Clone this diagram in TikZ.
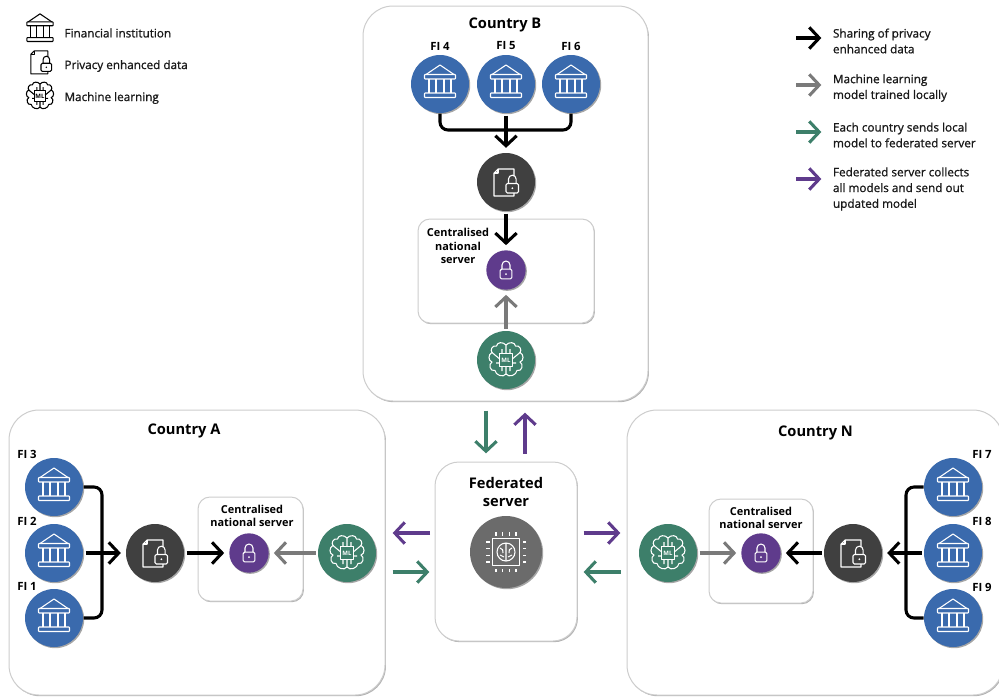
\documentclass[tikz,border=0pt]{standalone}
\usepackage{fontspec}
\usepackage{tikz}
\usepackage{xcolor}
\usetikzlibrary{arrows.meta,shadows}
\setmainfont{Open Sans}
\newfontfamily\legendfont[FakeBold=1]{Open Sans}
\definecolor{fiblue}{RGB}{58,106,173}
\definecolor{docgrey}{RGB}{64,64,64}
\definecolor{lockpurple}{RGB}{95,59,140}
\definecolor{mlgreen}{RGB}{61,127,106}
\definecolor{chipgrey}{RGB}{107,107,107}
\definecolor{arrowgrey}{RGB}{122,122,122}
\definecolor{boxline}{RGB}{205,205,205}
\tikzset{every picture/.style={line width=0.75pt}}
\tikzset{
  regionbox/.style={draw=boxline,fill=white,line width=0.75pt,rounded corners=22.5pt,inner sep=0pt,
    drop shadow={shadow xshift=0.7pt,shadow yshift=-0.9pt,fill=black,opacity=0.3}},
  serverbox/.style={regionbox,rounded corners=9pt},
  iconcircle/.style={circle,inner sep=0pt,minimum size=43.5pt,
    drop shadow={shadow xshift=0.9pt,shadow yshift=-0.9pt,fill=black,opacity=0.35}},
  ficircle/.style={iconcircle,fill=fiblue},
  doccircle/.style={iconcircle,fill=docgrey},
  lockcircle/.style={iconcircle,fill=lockpurple,minimum size=29.5pt},
  mlcircle/.style={iconcircle,fill=mlgreen},
  chipcircle/.style={iconcircle,fill=chipgrey,minimum size=54pt},
  flowline/.style={line width=2.3pt,rounded corners=6pt},
  flowarrow/.style={line width=2.3pt,-{Straight Barb[length=7.5pt,width=16pt,line width=2.3pt]},shorten >=3.5pt,shorten <=1.5pt},
  blackarrow/.style={flowarrow,black},
  greyarrow/.style={flowarrow,arrowgrey},
  greenarrow/.style={flowarrow,mlgreen},
  purplearrow/.style={flowarrow,lockpurple},
  iconstroke/.style={line width=0.8pt,line join=round},
  titletext/.style={font=\fontsize{11}{13}\selectfont\bfseries},
  fitext/.style={font=\fontsize{8.5}{10}\selectfont\bfseries},
  servertext/.style={font=\fontsize{8.2}{10.2}\selectfont\bfseries,align=center},
  keytext/.style={font=\fontsize{8.8}{11.8}\legendfont,align=left,anchor=west,inner sep=0pt,text=black!90},
  pics/bankicon/.style={code={
    \draw[iconstroke,draw=#1] (-14,-9.5) -- (0,-19) -- (14,-9.5) ;
    \draw[iconstroke,draw=#1,rounded corners=0.5pt] (-15.5,-9.5) rectangle (15.5,-5) ;
    \draw[iconstroke,draw=#1] (-11,-5) -- (-11,9) (-4,-5) -- (-4,9) (4,-5) -- (4,9) (11,-5) -- (11,9) ;
    \draw[iconstroke,draw=#1,rounded corners=0.5pt] (-15.5,9) rectangle (15.5,13.5) ;
  }},
  pics/dociconbase/.style={code={
    \draw[iconstroke,draw=#1] (8,-6) -- (8,-13) -- (-8,-13) -- (-12,-9) -- (-12,14) -- (8,14) -- (8,11) ;
    \draw[iconstroke,draw=#1] (-12,-9) -- (-8,-9) -- (-8,-13) ;
    \draw[iconstroke,draw=#1,rounded corners=1pt] (0,1.5) rectangle (12.5,11) ;
    \draw[iconstroke,draw=#1] (2.5,1.5) -- (2.5,-3) arc[start angle=-180,end angle=0,radius=3.8] -- (10.1,1.5) ;
    \fill[#1] (6.3,6.2) circle[radius=1] ;
  }},
  pics/lockicon/.style={code={
    \draw[iconstroke,draw=#1,rounded corners=1pt] (-5.8,-0.8) rectangle (5.8,8.8) ;
    \draw[iconstroke,draw=#1] (-4,-0.8) -- (-4,-5) arc[start angle=-180,end angle=0,radius=4] -- (4,-0.8) ;
    \fill[#1] (0,4) circle[radius=1] ;
  }},
  pics/brainicon/.style={code={
    \draw[iconstroke,draw=#1] (0,-15) .. controls (3,-18.5) and (9,-18) .. (9.5,-14) .. controls (14,-15) and (16,-10) .. (14,-7.5) .. controls (18,-6) and (18,1) .. (14,2) .. controls (18,4) and (16,12) .. (11,10.5) .. controls (10.5,15) and (3,18) .. (0,14) .. controls (-3,18) and (-10.5,15) .. (-11,10.5) .. controls (-16,12) and (-18,4) .. (-14,2) .. controls (-18,1) and (-18,-6) .. (-14,-7.5) .. controls (-16,-10) and (-14,-15) .. (-9.5,-14) .. controls (-9,-18) and (-3,-18.5) .. (0,-15) -- (0,-6.5) ;
    \draw[iconstroke,draw=#1] (0,6.5) -- (0,14) (6.3,-1) -- (14,-7.5) (-6.3,-1) -- (-14,-7.5) (6.3,3) -- (10,3) (-6.3,3) -- (-10,3) (4,-11) -- (4,-6.5) (-4,-11) -- (-4,-6.5) (4,6.5) -- (4,11) (-4,6.5) -- (-4,11) ;
    \draw[iconstroke,draw=#1] (-6.3,-6.3) rectangle (6.3,6.3) ;
    \node[text=#1,inner sep=0pt,font=\fontsize{4.5}{5}\selectfont\bfseries] (mltext) at (0,0) {ML};
  }},
  pics/chipicon/.style={code={
    \draw[iconstroke,draw=#1] (-13.5,-13.5) rectangle (13.5,13.5) ;
    \draw[iconstroke,draw=#1] (0,0) circle[radius=9] (0,-9) -- (0,9) ;
    \draw[iconstroke,draw=#1] (-6,-4) .. controls (-3,-4) and (-3,-1) .. (-3,1) (6,-4) .. controls (3,-4) and (3,-1) .. (3,1) (-6,3) -- (-2,5) (6,3) -- (2,5) ;
    \draw[iconstroke,draw=#1] (-10,-20) -- (-10,-16.5) (-3.3,-20) -- (-3.3,-16.5) (3.3,-20) -- (3.3,-16.5) (10,-20) -- (10,-16.5) ;
    \draw[iconstroke,draw=#1] (-10,20) -- (-10,16.5) (-3.3,20) -- (-3.3,16.5) (3.3,20) -- (3.3,16.5) (10,20) -- (10,16.5) ;
    \draw[iconstroke,draw=#1] (-20,-10) -- (-16.5,-10) (-20,-3.3) -- (-16.5,-3.3) (-20,3.3) -- (-16.5,3.3) (-20,10) -- (-16.5,10) ;
    \draw[iconstroke,draw=#1] (20,-10) -- (16.5,-10) (20,-3.3) -- (16.5,-3.3) (20,3.3) -- (16.5,3.3) (20,10) -- (16.5,10) ;
  }},
}

\begin{document}
\begin{tikzpicture}[x=0.75pt,y=0.75pt,yscale=-1,xscale=1,every pic/.style={yscale=-1}]
\useasboundingbox (0,0) rectangle (999,697);

%Region boxes
\node[regionbox,minimum width=213.75pt,minimum height=296.25pt] (countryb) at (505.5,203.5) {};
\node[regionbox,minimum width=282pt,minimum height=213.75pt] (countrya) at (197,552.5) {};
\node[regionbox,minimum width=282pt,minimum height=213.75pt] (countryn) at (815,552.5) {};
\node[regionbox,rounded corners=18pt,minimum width=106.5pt,minimum height=134.25pt] (fedbox) at (506,551.5) {};
\node[serverbox,minimum width=132pt,minimum height=78pt] (centralb) at (506,271) {};
\node[serverbox,minimum width=78.75pt,minimum height=78pt] (centrala) at (250.5,549) {};
\node[serverbox,minimum width=78pt,minimum height=78pt] (centraln) at (761,551) {};

%Country B circles
\node[ficircle] (fifour) at (440,84) {};
\node[ficircle] (fifive) at (506,84) {};
\node[ficircle] (fisix) at (571,84) {};
\node[doccircle] (docb) at (506,182) {};
\node[lockcircle] (lockb) at (506,270) {};
\node[mlcircle] (mlb) at (506,360) {};
%Country A circles
\node[ficircle] (fithree) at (54,487) {};
\node[ficircle] (fitwo) at (54,553) {};
\node[ficircle] (fione) at (54,618) {};
\node[doccircle] (doca) at (155,553) {};
\node[lockcircle] (locka) at (249,553) {};
\node[mlcircle] (mla) at (347,553) {};
%Country N circles
\node[ficircle] (fiseven) at (953,487) {};
\node[ficircle] (fieight) at (953,553) {};
\node[ficircle] (finine) at (953,618) {};
\node[doccircle] (docn) at (853,553) {};
\node[lockcircle] (lockn) at (761,553) {};
\node[mlcircle] (mln) at (668,553) {};
%Federated server circle
\node[chipcircle] (chip) at (506,552) {};

%Icons in circles
\pic at (fifour) {bankicon=white};
\pic at (fifive) {bankicon=white};
\pic at (fisix) {bankicon=white};
\pic at (fithree) {bankicon=white};
\pic at (fitwo) {bankicon=white};
\pic at (fione) {bankicon=white};
\pic at (fiseven) {bankicon=white};
\pic at (fieight) {bankicon=white};
\pic at (finine) {bankicon=white};
\pic at (docb) {dociconbase=white};
\pic at (doca) {dociconbase=white};
\pic at (docn) {dociconbase=white};
\pic at (lockb) {lockicon=white};
\pic at (locka) {lockicon=white};
\pic at (lockn) {lockicon=white};
\pic at (mlb) {brainicon=white};
\pic at (mla) {brainicon=white};
\pic at (mln) {brainicon=white};
\pic at (chip) {chipicon=white};

%Junctions
\coordinate (joinb) at (506,130);
\coordinate (joina) at (102,553);
\coordinate (joinn) at (906,553);

%Straight Lines Country B
\draw[flowline] (fifour.south) |- (joinb) -| (fisix.south) ;
\draw[blackarrow] (fifive.south) -- (docb.north) ;
\draw[blackarrow] (docb.south) -- (lockb.north) ;
\draw[greyarrow] (mlb.north) -- (lockb.south) ;
%Straight Lines Country A
\draw[flowline] (fithree.east) -| (joina) |- (fione.east) ;
\draw[blackarrow] (fitwo.east) -- (doca.west) ;
\draw[blackarrow] (doca.east) -- (locka.west) ;
\draw[greyarrow] (mla.west) -- (locka.east) ;
%Straight Lines Country N
\draw[flowline] (fiseven.west) -| (joinn) |- (finine.west) ;
\draw[blackarrow] (fieight.west) -- (docn.east) ;
\draw[blackarrow] (docn.west) -- (lockn.east) ;
\draw[greyarrow] (mln.east) -- (lockn.west) ;
%Straight Lines Federated server
\coordinate (bdownstart) at (486,408.5);
\coordinate (bdownend) at (486,458);
\coordinate (bupstart) at (525,455.5);
\coordinate (bupend) at (525,408);
\coordinate (aleftstart) at (432,533);
\coordinate (aleftend) at (388,533);
\coordinate (arightstart) at (390.5,572);
\coordinate (arightend) at (434,572);
\coordinate (nrightstart) at (581.5,533);
\coordinate (nrightend) at (625,533);
\coordinate (nleftstart) at (622.5,572);
\coordinate (nleftend) at (579,572);
\draw[greenarrow] (bdownstart) -- (bdownend) ;
\draw[purplearrow] (bupstart) -- (bupend) ;
\draw[purplearrow] (aleftstart) -- (aleftend) ;
\draw[greenarrow] (arightstart) -- (arightend) ;
\draw[purplearrow] (nrightstart) -- (nrightend) ;
\draw[greenarrow] (nleftstart) -- (nleftend) ;

%Key of icons
\pic[scale=0.85] at (40,30) {bankicon=black};
\pic[scale=0.85] at (41,62) {dociconbase=black};
\pic[scale=0.8] at (40,96) {brainicon=black};
%Key of arrows
\coordinate (keyonestart) at (794,38);
\coordinate (keyoneend) at (826,38);
\coordinate (keytwostart) at (794,85);
\coordinate (keytwoend) at (826,85);
\coordinate (keythreestart) at (794,132);
\coordinate (keythreeend) at (826,132);
\coordinate (keyfourstart) at (794,179);
\coordinate (keyfourend) at (826,179);
\draw[blackarrow] (keyonestart) -- (keyoneend) ;
\draw[greyarrow] (keytwostart) -- (keytwoend) ;
\draw[greenarrow] (keythreestart) -- (keythreeend) ;
\draw[purplearrow] (keyfourstart) -- (keyfourend) ;

% Text Node
\node[titletext] (titleb) at (505,25) {Country B};
% Text Node
\node[titletext] (titlea) at (184,431) {Country A};
% Text Node
\node[titletext] (titlen) at (815.5,433) {Country N};
% Text Node
\node[titletext,align=center,font=\fontsize{11}{14}\selectfont\bfseries] (titlefed) at (506,492) {Federated\\server};
% Text Node
\node[fitext] (labelfour) at (440,46) {FI 4};
% Text Node
\node[fitext] (labelfive) at (506,46) {FI 5};
% Text Node
\node[fitext] (labelsix) at (571,46) {FI 6};
% Text Node
\node[fitext] (labelthree) at (27,454) {FI 3};
% Text Node
\node[fitext] (labeltwo) at (27,521) {FI 2};
% Text Node
\node[fitext] (labelone) at (27,586) {FI 1};
% Text Node
\node[fitext] (labelseven) at (982,454) {FI 7};
% Text Node
\node[fitext] (labeleight) at (982,521) {FI 8};
% Text Node
\node[fitext] (labelnine) at (982,587) {FI 9};
% Text Node
\node[servertext] (labelcentralb) at (458,246) {Centralised\\national\\server};
% Text Node
\node[servertext] (labelcentrala) at (252,516) {Centralised\\national server};
% Text Node
\node[servertext] (labelcentraln) at (761,518) {Centralised\\national server};
% Text Node
\node[keytext] (keybank) at (64,33) {Financial institution};
% Text Node
\node[keytext] (keydoc) at (64,66) {Privacy enhanced data};
% Text Node
\node[keytext] (keybrain) at (64,98) {Machine learning};
% Text Node
\node[keytext] (keyshare) at (832.5,41) {Sharing of privacy\\enhanced data};
% Text Node
\node[keytext] (keytrain) at (832.5,88) {Machine learning\\model trained locally};
% Text Node
\node[keytext] (keysend) at (832.5,135) {Each country sends local\\model to federated server};
% Text Node
\node[keytext] (keycollect) at (832.5,189) {Federated server collects\\all models and send out\\updated model};

\end{tikzpicture}
\end{document}
